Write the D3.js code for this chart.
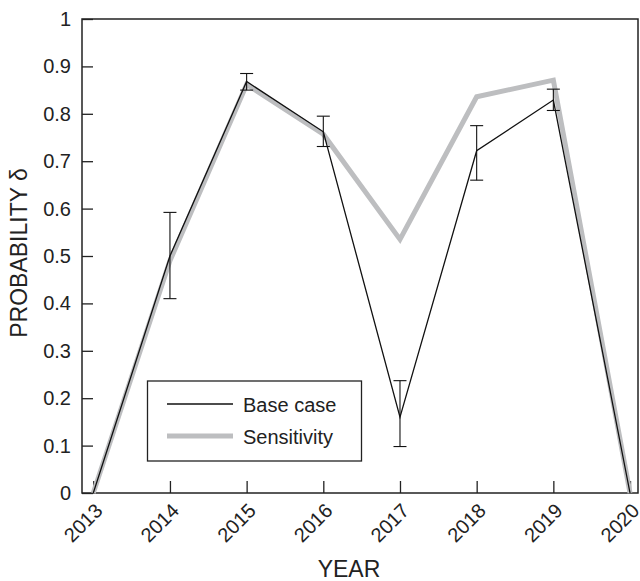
<!DOCTYPE html>
<html>
<head>
<meta charset="utf-8">
<script src="https://cdn.jsdelivr.net/npm/d3@7/dist/d3.min.js"></script>
<style>
  html, body { margin: 0; padding: 0; background: #fff; }
  svg { display: block; font-family: "Liberation Sans", Arial, Helvetica, sans-serif; }
</style>
</head>
<body>
<svg id="chart" width="640" height="581"></svg>
<script>
// Years on the x axis
const years = [2013, 2014, 2015, 2016, 2017, 2018, 2019, 2020];
// Base case estimate of probability δ, with its error bounds
const baseCase = [0, 0.50, 0.868, 0.762, 0.160, 0.722, 0.829, 0];
const baseLow  = [null, 0.410, 0.850, 0.731, 0.098, 0.660, 0.807, null];
const baseHigh = [null, 0.592, 0.885, 0.795, 0.237, 0.775, 0.852, null];
// Sensitivity run
const sensitivity = [0, 0.49, 0.862, 0.757, 0.535, 0.836, 0.871, 0];
// Axis ticks
const yTicks = [0, 0.1, 0.2, 0.3, 0.4, 0.5, 0.6, 0.7, 0.8, 0.9, 1];
const yTickLabels = ["0", "0.1", "0.2", "0.3", "0.4", "0.5", "0.6", "0.7", "0.8", "0.9", "1"];
const seriesNames = ["Base case", "Sensitivity"];

const svg = d3.select("#chart");
const plotLeft = 82, plotRight = 638, plotTop = 19, plotBottom = 493;

const x = d3.scaleLinear().domain([2012.853, 2020.104]).range([plotLeft, plotRight]);
const y = d3.scaleLinear().domain([0, 1]).range([plotBottom, plotTop]);

const ink = "#222";
const grey = "#bdbec0";

// Plot frame
svg.append("rect")
  .attr("x", plotLeft).attr("y", plotTop)
  .attr("width", plotRight - plotLeft).attr("height", plotBottom - plotTop)
  .attr("fill", "none").attr("stroke", ink).attr("stroke-width", 1.5);

// Y axis: inward ticks, labels on the left
const yAxis = d3.axisLeft(y)
  .tickValues(yTicks)
  .tickFormat((d, i) => yTickLabels[i])
  .tickSizeInner(-11).tickSizeOuter(0).tickPadding(11);
const gy = svg.append("g").attr("transform", `translate(${plotLeft},0)`).call(yAxis);
gy.select(".domain").remove();
gy.selectAll(".tick line").attr("stroke", ink).attr("stroke-width", 1.3);
gy.selectAll(".tick text")
  .attr("fill", "#222").attr("font-size", 20)
  .attr("font-family", "Liberation Sans, Arial, sans-serif");

// X axis: inward ticks, rotated year labels
const xAxis = d3.axisBottom(x)
  .tickValues(years)
  .tickFormat(d3.format("d"))
  .tickSizeInner(-12).tickSizeOuter(0);
const gx = svg.append("g").attr("transform", `translate(0,${plotBottom})`).call(xAxis);
gx.select(".domain").remove();
gx.selectAll(".tick line").attr("stroke", ink).attr("stroke-width", 1.3);
gx.selectAll(".tick text")
  .attr("fill", "#222").attr("font-size", 20)
  .attr("font-family", "Liberation Sans, Arial, sans-serif")
  .attr("text-anchor", "end")
  .attr("dy", null)
  .attr("y", null)
  .attr("transform", "translate(10,19) rotate(-45)");

// Axis titles
svg.append("text")
  .attr("x", 349).attr("y", 577)
  .attr("text-anchor", "middle")
  .attr("font-size", 23).attr("fill", "#222")
  .text("YEAR");
svg.append("text")
  .attr("transform", "translate(27,253) rotate(-90)")
  .attr("text-anchor", "middle")
  .attr("font-size", 23).attr("fill", "#222")
  .text("PROBABILITY δ");

const line = d3.line().x((d, i) => x(years[i])).y(d => y(d));

// Sensitivity line (drawn beneath)
svg.append("path")
  .datum(sensitivity)
  .attr("d", line)
  .attr("fill", "none").attr("stroke", grey)
  .attr("stroke-width", 5).attr("stroke-linejoin", "miter");

// Base case line
svg.append("path")
  .datum(baseCase)
  .attr("d", line)
  .attr("fill", "none").attr("stroke", "#111")
  .attr("stroke-width", 1.3);

// Error bars for the base case
const errs = years.map((yr, i) => ({ yr, lo: baseLow[i], hi: baseHigh[i] }))
  .filter(d => d.lo !== null);
const cap = 6.5;
const eg = svg.append("g").attr("stroke", "#111").attr("stroke-width", 1.1);
eg.selectAll(".stem").data(errs).join("line")
  .attr("x1", d => x(d.yr)).attr("x2", d => x(d.yr))
  .attr("y1", d => y(d.lo)).attr("y2", d => y(d.hi));
eg.selectAll(".capHi").data(errs).join("line")
  .attr("x1", d => x(d.yr) - cap).attr("x2", d => x(d.yr) + cap)
  .attr("y1", d => y(d.hi)).attr("y2", d => y(d.hi));
eg.selectAll(".capLo").data(errs).join("line")
  .attr("x1", d => x(d.yr) - cap).attr("x2", d => x(d.yr) + cap)
  .attr("y1", d => y(d.lo)).attr("y2", d => y(d.lo));

// Legend
const lg = svg.append("g");
lg.append("rect")
  .attr("x", 147.5).attr("y", 381)
  .attr("width", 214).attr("height", 80)
  .attr("fill", "#fff").attr("stroke", ink).attr("stroke-width", 1.3);
const legendStyles = [
  { color: "#111", width: 1.3, cy: 404 },
  { color: grey, width: 5, cy: 436 }
];
seriesNames.forEach((name, i) => {
  const s = legendStyles[i];
  lg.append("line")
    .attr("x1", 167).attr("x2", 233)
    .attr("y1", s.cy).attr("y2", s.cy)
    .attr("stroke", s.color).attr("stroke-width", s.width);
  lg.append("text")
    .attr("x", 243).attr("y", s.cy + 8)
    .attr("font-size", 20).attr("fill", "#222")
    .text(name);
});
</script>
</body>
</html>
